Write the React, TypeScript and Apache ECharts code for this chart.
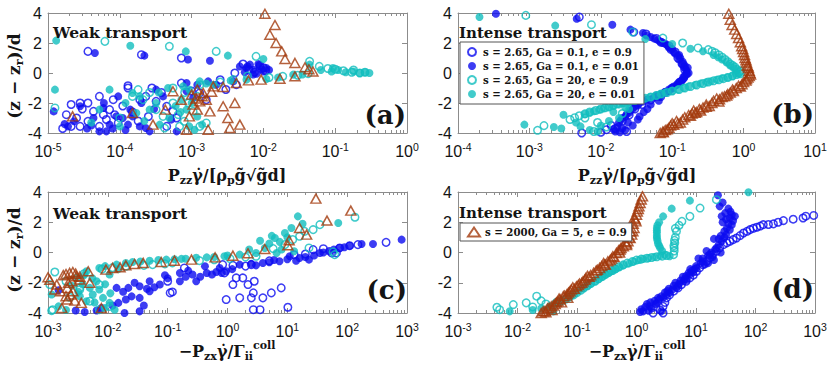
import React, { useEffect, useRef } from 'react';
import * as echarts from 'echarts';

// ---------- legend names ----------
const N_BO = 's = 2.65, Ga = 0.1, e = 0.9';
const N_BF = 's = 2.65, Ga = 0.1, e = 0.01';
const N_CO = 's = 2.65, Ga = 20, e = 0.9';
const N_CF = 's = 2.65, Ga = 20, e = 0.01';
const N_T = 's = 2000, Ga = 5, e = 0.9';

// ---------- axis ranges ----------
const X_RANGE = [[1e-5, 1], [1e-4, 10], [1e-3, 1e3], [1e-3, 1e3]];
const X_DECADES = [[-5, 0], [-4, 1], [-3, 3], [-3, 3]];
const Y_MIN = -4;
const Y_MAX = 4;
const Y_STEP = 2;

// ---------- panel (a) ----------
const aBlueOpen = [[3.6e-5,1.44],[2.0e-4,1.22],[7.2e-4,1.0],[5.2e-3,0.6],[1.0e-2,0.35],[1.07e-2,0.15],[8.9e-3,0.5],[2.5e-3,-0.45],[7.2e-4,-0.67],[1.3e-4,-0.85],[1.3e-4,-1.0],[2.8e-4,-1.0],[8.1e-5,-1.78],[3.6e-5,-2.0],[5.2e-5,-1.56],[2.8e-5,-2.0],[2.1e-5,-2.1],[1.8e-5,-2.78],[2.5e-5,-3.0],[4.3e-5,-2.56],[3.6e-5,-3.22],[2.8e-5,-3.56],[2.1e-5,-3.56],[5.9e-5,-2.78],[7.2e-5,-2.44],[8.5e-5,-2.78],[9.5e-5,-3.33],[1.9e-4,-1.78],[2.3e-4,-1.56],[3.2e-4,-1.89],[4.5e-4,-2.22],[5.5e-4,-2.56],[6.2e-4,-3.0],[4.5e-4,-3.56],[1.3e-3,-1.33],[1.6e-3,-1.78],[3.0e-3,-1.1],[4.2e-3,-0.78],[5.2e-5,-3.56],[1.6e-5,-3.7],[1.1e-4,-2.2],[1.8e-4,-3.2],[1.0e-3,-1.2],[6.3e-3,0.2],[6.5e-5,-3.1],[1.5e-4,-2.6],[2.5e-4,-2.9],[3.8e-4,-1.3],[4.0e-3,0.0],[7.5e-3,0.05],[3.0e-5,-2.4]];
const aBlueFilled = [[4.5e-5,1.33],[2.2e-4,1.16],[8.9e-4,0.9],[1.8e-3,0.82],[4.7e-3,0.44],[5.8e-3,0.33],[7.2e-3,0.22],[8.9e-3,0.44],[1.0e-2,0.1],[1.1e-2,0.33],[7.2e-3,-0.1],[6.5e-3,0.56],[3.8e-3,-0.56],[1.7e-3,-0.56],[8.5e-4,-0.67],[1.2e-5,-2.56],[1.9e-5,-3.56],[2.8e-5,-2.22],[4.3e-5,-3.0],[5.2e-5,-3.89],[6.5e-5,-3.89],[7.2e-5,-3.44],[8.9e-5,-2.89],[9.5e-5,-1.56],[1.4e-4,-2.44],[1.5e-4,-2.89],[1.9e-4,-3.56],[2.3e-4,-3.67],[1.3e-4,-3.44],[2.6e-4,-3.89],[3.2e-4,-1.11],[4.0e-4,-1.56],[5.2e-4,-3.11],[6.2e-4,-3.89],[8.5e-4,-1.22],[1.05e-3,-1.67],[1.2e-3,-0.78],[2.2e-3,-0.78],[2.3e-5,-3.22],[5.9e-5,-2.33],[1.7e-5,-3.4],[3.5e-5,-3.7],[6.0e-5,-2.0],[1.1e-4,-3.0],[3.0e-4,-2.4],[5.5e-3,0.05],[8.0e-3,-0.05],[9.5e-3,0.25],[4.0e-5,-3.5],[8.0e-5,-3.7],[1.2e-4,-3.8],[2.0e-4,-2.0],[6.0e-3,0.45],[8.5e-3,0.6],[1.2e-2,0.2]];
const aCyanOpen = [[1.25e-5,-2.33],[6.2e-5,2.11],[4.9e-4,1.78],[2.2e-3,1.44],[7.9e-3,1.11],[4.4e-2,0.78],[6.0e-2,0.44],[7.9e-2,0.3],[0.1,0.25],[0.13,0.15],[0.17,0.05],[0.22,0.0],[0.18,0.2],[0.26,0.05],[1.86e-2,-0.22],[4.2e-2,-0.04],[3.8e-3,-0.44],[1.3e-3,-0.78],[5.5e-4,-1.0],[1.8e-4,-1.11],[3.2e-4,-2.44],[4.0e-4,-2.89],[4.2e-4,-3.67],[6.8e-4,-3.56],[5.5e-4,-2.0],[6.5e-4,-2.78],[7.9e-4,-3.22],[1.3e-3,-3.56],[1.6e-3,-3.33],[1.2e-3,-1.56],[1.05e-3,-2.56],[1.5e-4,-1.56],[1.0e-4,-3.0],[2.1e-4,-1.78],[6.0e-3,-0.2],[1.2e-2,-0.3],[3.0e-2,-0.15],[8.0e-4,-1.3],[2.5e-3,-0.6],[9.0e-4,-2.0],[2.6e-4,-1.3]];
const aCyanFilled = [[1.3e-5,2.16],[1.25e-5,-1.11],[1.4e-4,1.82],[8.3e-4,1.44],[3.2e-3,1.16],[1.0e-2,0.93],[4.4e-2,0.56],[9.3e-2,0.33],[6.3e-2,0.2],[8.9e-2,0.1],[0.11,0.2],[0.14,0.05],[0.18,0.1],[0.22,0.0],[0.26,0.05],[0.3,0.0],[1.1e-2,-0.4],[5.8e-3,-0.44],[2.6e-2,-0.11],[1.3e-3,-0.56],[9.3e-4,-1.11],[7.2e-5,-1.11],[1.5e-4,-1.33],[1.9e-4,-1.56],[1.2e-4,-2.0],[5.2e-5,-2.44],[1.0e-4,-3.56],[1.7e-4,-2.67],[2.6e-4,-2.44],[3.2e-4,-2.0],[3.6e-4,-3.44],[4.9e-4,-3.0],[7.2e-4,-1.78],[8.5e-4,-2.44],[9.3e-4,-3.56],[1.1e-3,-3.78],[1.4e-3,-3.44],[7.6e-4,-0.89],[4.7e-4,-1.0],[2.0e-3,-0.78],[3.5e-4,-1.3],[6.0e-4,-2.2],[1.2e-3,-2.9],[2.2e-4,-3.2],[4.0e-5,-3.3],[7.0e-4,-2.6],[1.0e-3,-2.0],[1.6e-3,-0.7],[3.5e-3,-0.5],[1.6e-2,-0.3],[3.5e-2,-0.1]];
const aBrown = [[1.05e-2,3.95],[1.45e-2,3.2],[1.23e-2,2.55],[1.5e-2,2.0],[1.8e-2,1.44],[2.0e-2,0.93],[2.75e-2,0.67],[3.8e-2,0.38],[4.9e-2,0.1],[4.3e-2,0.25],[2.75e-2,-0.22],[1.7e-2,-0.38],[9.3e-3,-0.44],[6.2e-3,-0.49],[4.2e-3,-0.67],[2.75e-3,-0.93],[2.0e-3,-0.89],[1.2e-3,-1.11],[1.0e-3,-1.44],[1.45e-3,-1.33],[1.6e-3,-1.78],[1.3e-3,-1.89],[1.05e-3,-2.11],[1.2e-3,-2.44],[1.8e-3,-2.56],[9.3e-4,-2.89],[8.5e-4,-3.78],[1.7e-3,-3.78],[3.2e-3,-3.0],[3.4e-3,-3.67],[4.7e-3,-3.44],[2.75e-3,-2.22],[4.0e-3,-2.0],[5.5e-4,-1.22],[7.2e-4,-1.78],[2.9e-4,-3.44],[1.5e-4,-2.67],[2.2e-5,-2.89],[4.3e-4,-2.44],[1.4e-3,-1.55],[1.9e-3,-1.25],[1.15e-3,-1.7]];

// ---------- panel (b) ----------
const bBlueOpen = [[5.0e-3,3.73],[2.9e-2,2.73],[4.3e-2,2.6],[6.0e-2,2.3],[9.0e-2,1.8],[1.2e-1,1.0],[1.5e-1,0.2],[1.3e-1,-0.6],[8.0e-2,-1.3],[5.0e-2,-1.8],[3.0e-2,-2.4],[2.0e-2,-3.2],[1.6e-2,-3.7],[5.4e-3,-4.0],[1.2e-2,-3.78],[1.4e-2,-3.5],[2.3e-2,-3.9],[1.4e-1,0.6],[1.0e-1,-1.0],[3.8e-2,-2.1],[7.0e-2,2.05],[1.1e-1,1.4],[1.45e-1,-0.3],[6.5e-2,-1.55],[2.5e-2,-2.8],[1.0e-2,-3.95]];
const bBlueFilled = [[3.4e-4,3.95],[4.6e-3,3.62],[1.45e-2,3.22],[2.6e-2,2.89],[3.9e-2,2.67],[5.0e-2,2.4],[6.3e-2,2.2],[7.4e-2,2.0],[9.0e-2,1.7],[1.05e-1,1.4],[1.2e-1,1.15],[1.3e-1,1.0],[1.4e-1,0.75],[1.5e-1,0.5],[1.55e-1,0.25],[1.6e-1,0.0],[8.0e-2,1.95],[1.0e-1,1.6],[1.25e-1,1.2],[1.35e-1,0.6],[1.5e-1,-0.2],[1.35e-1,-0.5],[1.15e-1,-0.8],[1.0e-1,-1.0],[8.0e-2,-1.25],[6.0e-2,-1.5],[4.5e-2,-1.75],[3.5e-2,-2.0],[3.0e-2,-2.25],[2.6e-2,-2.5],[2.3e-2,-2.75],[2.0e-2,-3.0],[1.8e-2,-3.3],[1.7e-2,-3.6],[1.6e-2,-3.9],[2.2e-2,-3.8],[2.8e-2,-3.5],[3.3e-2,-3.1],[4.0e-2,-2.6],[5.0e-2,-2.1],[7.0e-2,-1.6],[9.0e-2,-1.2],[1.2e-1,-0.7],[1.45e-1,-0.35],[1.58e-1,0.15],[4.4e-2,2.5],[5.6e-2,2.3],[6.8e-2,2.1],[8.5e-2,1.85],[9.5e-2,1.55],[1.1e-1,1.3],[1.25e-1,0.9],[1.45e-1,0.4],[1.7e-1,0.0],[1.65e-1,0.35],[1.6e-1,-0.1],[1.4e-1,-0.45],[1.25e-1,-0.6],[1.05e-1,-0.9],[9.0e-2,-1.1],[7.0e-2,-1.4],[5.5e-2,-1.65],[4.0e-2,-1.9],[3.3e-2,-2.15],[2.8e-2,-2.4],[2.5e-2,-2.65],[2.2e-2,-2.9],[1.9e-2,-3.15],[2.4e-2,-3.3],[2.0e-2,-3.7],[1.85e-2,-3.95],[1.5e-2,-3.75],[3.5e-2,-2.9],[4.5e-2,-2.4],[6.5e-2,-1.85]];
const bCyanOpen = [[8.9e-4,3.84],[7.4e-3,3.22],[2.8e-2,2.73],[7.4e-2,2.33],[1.4e-1,2.0],[2.3e-1,1.67],[3.2e-1,1.56],[4.0e-1,1.35],[5.0e-1,1.05],[6.0e-1,0.75],[7.0e-1,0.5],[8.0e-1,0.25],[8.8e-1,0.05],[8.0e-1,-0.1],[6.0e-1,-0.3],[4.5e-1,-0.45],[3.2e-1,-0.6],[2.2e-1,-0.8],[1.5e-1,-1.0],[1.0e-1,-1.2],[7.0e-2,-1.4],[5.0e-2,-1.6],[3.5e-2,-1.75],[2.5e-2,-1.9],[1.7e-2,-2.05],[1.3e-2,-2.25],[1.0e-2,-2.4],[7.0e-3,-2.6],[5.0e-3,-2.85],[3.7e-3,-3.1],[1.3e-3,-3.82],[1.6e-3,-3.51],[6.0e-3,-3.0],[8.0e-3,-3.9],[1.2e-2,-3.6],[9.0e-3,-3.3],[2.0e-2,-2.7],[3.6e-1,1.45],[4.5e-1,1.2],[5.5e-1,0.9],[6.5e-1,0.6],[7.5e-1,0.4],[9.0e-1,0.15],[9.0e-1,-0.05],[7.0e-1,-0.2],[5.2e-1,-0.38],[3.8e-1,-0.52],[2.7e-1,-0.7],[1.8e-1,-0.9],[1.25e-1,-1.1],[8.5e-2,-1.3],[6.0e-2,-1.5],[4.2e-2,-1.68],[3.0e-2,-1.82],[2.1e-2,-1.98],[1.5e-2,-2.15],[1.15e-2,-2.32],[8.5e-3,-2.5],[6.0e-3,-2.72],[4.3e-3,-2.98]];
const bCyanFilled = [[2.0e-4,3.73],[2.3e-3,3.16],[4.2e-2,2.27],[1.0e-1,1.93],[1.8e-1,1.62],[2.7e-1,1.45],[3.8e-1,1.2],[5.0e-1,0.9],[6.5e-1,0.5],[8.0e-1,0.2],[8.5e-1,-0.05],[7.0e-1,-0.2],[5.0e-1,-0.35],[3.5e-1,-0.55],[2.5e-1,-0.7],[1.7e-1,-0.9],[1.2e-1,-1.1],[8.0e-2,-1.3],[6.0e-2,-1.5],[4.0e-2,-1.7],[3.0e-2,-1.85],[2.0e-2,-2.0],[1.5e-2,-2.2],[1.1e-2,-2.35],[8.0e-3,-2.55],[6.0e-3,-2.75],[8.5e-4,-3.44],[3.0e-3,-2.78],[2.2e-3,-3.6],[2.8e-3,-3.7],[5.2e-3,-3.56],[7.0e-3,-3.8],[1.0e-2,-3.5],[1.3e-2,-3.2],[1.8e-2,-3.0],[9.0e-3,-3.9],[4.5e-3,-3.3],[2.5e-2,-2.4],[4.4e-1,1.05],[5.8e-1,0.7],[7.2e-1,0.35],[7.8e-1,0.0],[6.0e-1,-0.28],[4.2e-1,-0.45],[3.0e-1,-0.62],[2.1e-1,-0.8],[1.45e-1,-1.0],[1.0e-1,-1.2],[7.0e-2,-1.4],[5.0e-2,-1.6],[3.5e-2,-1.78],[2.5e-2,-1.92],[1.8e-2,-2.1],[1.3e-2,-2.28],[9.5e-3,-2.45],[7.0e-3,-2.65],[1.5e-2,-2.6],[2.2e-2,-2.3]];
const bBrown = [[0.62,3.95],[0.65,3.55],[0.69,3.2],[0.75,2.89],[0.8,2.6],[0.85,2.33],[0.9,2.05],[0.94,1.78],[1.0,1.4],[1.05,1.0],[1.1,0.7],[1.17,0.33],[1.23,0.0],[1.15,-0.3],[1.0,-0.6],[0.79,-1.0],[0.65,-1.3],[0.5,-1.6],[0.38,-1.85],[0.3,-2.1],[0.24,-2.4],[0.19,-2.7],[0.15,-2.95],[0.115,-3.2],[0.095,-3.5],[0.074,-3.9],[0.068,-4.0],[0.085,-3.75],[0.13,-3.3],[0.17,-2.8],[0.22,-2.6],[0.33,-2.2],[0.45,-1.9],[0.58,-1.5],[0.9,-0.9],[1.2,-0.2],[1.08,-0.5],[0.7,-1.1],[0.27,-2.3],[1.12,0.5],[1.2,0.15],[0.97,1.6],[0.42,-1.7],[0.2,-2.5],[0.1,-3.35],[1.03,1.2],[1.08,0.85],[1.15,0.45],[1.25,-0.1],[1.1,-0.4],[0.95,-0.75],[0.85,-0.85],[0.72,-1.2],[0.6,-1.4],[0.54,-1.55],[0.46,-1.75],[0.36,-2.0],[0.3,-2.25],[0.25,-2.5],[0.21,-2.65],[0.18,-2.85],[0.14,-3.1],[0.12,-3.35],[0.105,-3.45],[0.09,-3.65],[0.08,-3.8],[0.075,-3.95]];

// ---------- panel (c) ----------
const cBlueOpen = [[1.23,-0.85],[2.5,-0.8],[0.89,-1.35],[0.95,-3.11],[1.23,-2.12],[1.4,-1.68],[1.6,-3.0],[1.8,-1.68],[2.2,-2.12],[2.7,-2.67],[2.5,-3.0],[2.7,-3.78],[3.5,-3.78],[3.9,-3.0],[5.4,-2.67],[7.9,-2.34],[2.8,-1.9],[10.2,-3.62],[27,0.19],[55,-0.03],[66,-0.03],[110,0.45],[447,0.67],[151,0.52],[0.12,-2.61],[0.19,-1.02],[0.83,-0.8],[0.11,-2.67],[0.1,-1.9],[13,-0.15],[5,-0.55],[40,0.25],[20,-0.1],[75,0.3],[2.0,-0.9]];
const cBlueFilled = [[2.9e-3,-3.84],[4.1e-3,-3.93],[6.5e-3,-3.84],[1.4e-2,-2.34],[2.2e-2,-2.34],[2.0e-2,-3.11],[1.9e-2,-4.0],[3.4e-2,-3.89],[3.4e-2,-2.23],[3.4e-2,-3.0],[5.0e-2,-1.9],[5.0e-2,-2.56],[7.4e-2,-2.12],[0.16,-1.35],[0.16,-1.9],[0.26,-1.46],[0.3,-1.9],[0.45,-1.35],[0.65,-1.29],[0.95,-1.24],[0.42,-0.91],[0.74,-1.02],[1.6,-0.8],[3.9,-0.69],[7.4,-0.58],[16,-0.36],[35,-0.03],[74,0.3],[174,0.56],[270,0.56],[813,0.85],[11,-0.25],[23,-0.47],[1.5e-2,-3.33],[7.8e-3,-3.67],[1.5e-3,-2.5],[1.2,-1.1],[2.5,-0.75],[5.0,-0.65],[10,-0.45],[28,-0.2],[50,0.1],[110,0.45],[0.2,-1.6],[0.1,-1.7],[0.06,-2.3],[0.025,-2.9],[0.012,-3.5],[0.04,-3.5],[0.22,-1.2],[0.35,-1.6],[0.55,-1.45],[0.8,-1.35],[3.0,-0.85],[6.0,-0.5],[14,-0.55],[20,-0.3],[40,0.0],[60,0.2],[90,0.35],[0.028,-2.0],[0.045,-2.4],[0.09,-1.5],[0.018,-2.6]];
const cCyanOpen = [[1.07e-3,-2.12],[1.2e-3,-3.78],[3.4e-3,-2.34],[2.3e-3,-2.96],[5.0e-3,-3.22],[7.2e-3,-2.12],[1.07e-2,-3.56],[7.2e-3,-3.78],[2.0e-2,-0.91],[5.6e-2,-0.8],[0.12,-0.69],[0.34,-0.54],[1.1,-0.41],[3.0,-0.25],[5.8,0.26],[9.1,0.52],[12.3,0.85],[16,1.07],[19.5,1.4],[27,1.51],[35,1.84],[135,2.33],[23,0.3],[58,0.04],[62,-0.14],[1.3e-3,-1.29],[1.15e-3,-3.84],[3.4e-3,-2.45],[0.04,-0.85],[0.09,-0.75],[8.0e-3,-1.1],[1.2e-2,-1.0],[4.0e-3,-1.4],[2.0e-3,-1.9],[0.6,-0.48],[2.0,-0.3]];
const cCyanFilled = [[15,2.39],[71,1.95],[11.7,1.62],[9.1,1.29],[6.2,0.96],[3.5,0.78],[4.2,0.3],[6.6,-0.03],[13,0.08],[3.0,-0.03],[1.6,-0.14],[0.89,-0.25],[0.45,-0.32],[0.2,-0.41],[0.095,-0.47],[0.05,-0.54],[0.026,-0.63],[0.014,-0.8],[7.2e-3,-1.02],[4.4e-3,-1.24],[3.0e-3,-1.68],[3.8e-3,-2.12],[5.0e-3,-2.34],[6.5e-3,-1.9],[7.2e-3,-2.45],[5.6e-3,-2.78],[8.3e-3,-3.0],[1.07e-2,-3.33],[1.3e-2,-3.78],[4.4e-3,-3.22],[3.4e-3,-2.89],[1.5e-3,-3.56],[1.15e-3,-2.78],[8.9e-3,-3.67],[1.07e-2,-1.46],[2.3,0.2],[5.0,0.6],[8.0,0.2],[0.6,-0.3],[0.3,-0.35],[0.13,-0.45],[0.035,-0.6],[0.02,-0.7],[9.0e-3,-0.9],[4.0e-3,-1.5],[5.5e-3,-1.7],[2.5e-3,-2.2],[6.0e-3,-3.3],[1.1e-2,-2.7],[2.0e-3,-3.8],[10,1.0],[7.5,0.7],[18,1.9],[0.07,-0.5],[0.17,-0.42],[1.0,-0.2],[5.5,1.1],[1.5e-2,-1.1],[3.2e-3,-2.6],[9.0e-3,-2.1]];
const cBrown = [[1.0e-3,-1.64],[1.4e-3,-2.12],[1.3e-3,-2.45],[2.0e-3,-1.42],[2.6e-3,-1.29],[3.0e-3,-1.57],[2.5e-3,-1.9],[3.4e-3,-1.79],[2.1e-3,-2.34],[2.6e-3,-2.56],[2.0e-3,-2.89],[2.8e-3,-3.18],[1.7e-3,-3.67],[3.6e-3,-3.33],[4.7e-3,-1.24],[5.0e-3,-2.01],[7.8e-3,-3.67],[9.3e-3,-1.13],[1.2e-2,-1.02],[1.6e-2,-0.98],[2.0e-2,-0.85],[2.8e-2,-0.76],[3.9e-2,-0.69],[7.8e-2,-0.63],[0.13,-0.54],[0.25,-0.47],[0.62,-0.32],[1.23,-0.21],[2.2,-0.05],[4.2,0.23],[10.2,0.48],[10.7,0.81],[21,1.18],[16,1.62],[46,2.11],[115,2.77],[30,3.56],[1.07e-3,-1.8],[2.3e-3,-1.35],[2.9e-3,-1.4],[2.2e-3,-2.01],[1.6e-3,-2.56],[2.4e-3,-2.78],[2.1e-3,-3.11],[3.4e-3,-1.6],[1.8e-3,-1.5]];

// ---------- panel (d) ----------
const dBlueOpen = [[950,2.45],[630,2.28],[295,2.11],[200,1.89],[135,1.84],[105,1.67],[81,1.51],[63,1.29],[48,0.96],[37,0.74],[29,0.52],[22,0.08],[17,-0.36],[13,-0.8],[10.2,-1.24],[7.9,-1.68],[5.7,-2.12],[4.2,-2.56],[3.2,-3.0],[2.8,-3.56],[1.9,-4.0],[2.8,-4.0],[25,0.3],[15,-0.6],[9,-1.5],[3.6,-2.8],[700,2.4],[430,2.2],[240,2.0],[165,1.85],[120,1.75],[92,1.6],[72,1.4],[55,1.12],[42,0.85],[33,0.63],[19,-0.14],[11.5,-1.02],[6.8,-1.9],[5.0,-2.34],[3.0,-3.3],[2.5,-3.8]];
const dBlueFilled = [[23.4,3.78],[25,3.05],[31,2.61],[37,2.28],[40,1.84],[37,1.51],[32,1.18],[27,0.74],[22,0.3],[17,-0.14],[13,-0.58],[10.2,-1.02],[7.9,-1.46],[6.2,-1.9],[4.7,-2.34],[3.6,-2.67],[2.8,-3.0],[2.2,-3.33],[1.66,-3.56],[1.3,-3.89],[1.15,-3.93],[2.6,-3.89],[28,2.0],[30,1.4],[20,0.9],[24,0.5],[15,0.1],[19,-0.3],[11,-0.4],[14,-0.8],[8.0,-1.1],[9.0,-1.3],[6.0,-1.6],[7.0,-1.8],[4.5,-2.0],[5.0,-2.2],[3.5,-2.4],[3.2,-2.8],[2.4,-3.1],[2.0,-3.2],[1.5,-3.4],[1.8,-3.7],[1.2,-3.75],[45,2.4],[38,2.7],[35,2.9],[21,0.2],[18,0.0],[16,-0.2],[13,-0.4],[12,-0.7],[10,-0.9],[9.5,-1.1],[8.5,-1.2],[7.5,-1.35],[6.8,-1.55],[6.5,-1.75],[5.5,-1.85],[5.2,-2.05],[4.2,-2.2],[4.0,-2.45],[3.3,-2.55],[3.0,-2.65],[2.6,-2.9],[2.3,-3.0],[2.1,-3.4],[1.7,-3.3],[1.4,-3.6],[1.6,-3.85],[30,1.0],[26,1.1],[24,0.9],[33,1.6],[35,1.9],[32,2.2],[40,2.5],[42,2.1],[26,0.0],[20,-0.5],[16,-0.7],[28,3.3],[27,2.4]];
const dCyanOpen = [[22,3.49],[11.7,2.94],[7.9,2.39],[5.8,2.06],[5.2,1.8],[4.7,1.4],[4.5,1.0],[4.4,0.63],[4.3,0.3],[4.2,-0.14],[3.2,-0.2],[2.2,-0.28],[1.5,-0.38],[1.0,-0.5],[0.7,-0.7],[0.5,-0.95],[0.38,-1.2],[0.3,-1.45],[0.23,-1.75],[0.17,-2.05],[0.13,-2.35],[0.1,-2.65],[0.075,-2.95],[0.055,-3.2],[0.03,-3.4],[4.5e-3,-3.62],[5.0e-3,-3.78],[8.5e-3,-3.44],[0.021,-2.89],[0.014,-3.33],[0.018,-3.6],[0.025,-3.2],[4.5,1.6],[4.35,0.8],[4.25,0.45],[4.3,0.1],[2.7,-0.24],[1.8,-0.33],[1.2,-0.44],[0.85,-0.6],[0.6,-0.82],[0.44,-1.08],[0.34,-1.32],[0.26,-1.6],[0.2,-1.9],[0.15,-2.2],[0.115,-2.5],[0.088,-2.8],[0.065,-3.08],[0.045,-3.3]];
const dCyanFilled = [[76,3.98],[7.9,3.43],[3.9,2.9],[2.8,2.39],[2.4,2.0],[2.2,1.62],[2.2,1.3],[2.2,0.96],[2.3,0.6],[2.5,0.3],[3.6,-0.25],[3.0,-0.15],[2.0,-0.3],[1.3,-0.42],[0.9,-0.6],[0.6,-0.85],[0.45,-1.1],[0.34,-1.35],[0.27,-1.6],[0.2,-1.9],[0.15,-2.2],[0.11,-2.5],[0.085,-2.8],[0.065,-3.05],[0.048,-3.3],[0.035,-3.55],[0.04,-3.89],[7.4e-3,-3.89],[0.025,-3.7],[0.018,-3.8],[2.25,1.8],[2.2,1.45],[2.2,1.1],[2.25,0.8],[2.4,0.45],[2.7,0.1],[2.5,-0.22],[1.6,-0.36],[1.1,-0.5],[0.75,-0.72],[0.52,-0.98],[0.4,-1.22],[0.3,-1.48],[0.23,-1.75],[0.17,-2.05],[0.13,-2.35],[0.095,-2.65],[0.075,-2.92],[0.055,-3.18],[0.042,-3.42]];
const dBrown = [[1.26,3.71],[1.15,3.27],[1.07,2.88],[1.0,2.5],[0.98,2.06],[0.91,1.62],[0.83,1.18],[0.72,0.74],[0.6,0.41],[0.46,-0.03],[0.33,-0.58],[0.24,-1.02],[0.19,-1.35],[0.126,-1.9],[0.098,-2.23],[0.076,-2.56],[0.059,-2.89],[0.048,-3.22],[0.037,-3.56],[0.027,-3.89],[0.025,-4.0],[0.92,2.3],[0.88,1.9],[0.8,1.4],[0.75,1.0],[0.65,0.7],[0.55,0.3],[0.5,0.15],[0.4,-0.25],[0.38,-0.4],[0.28,-0.7],[0.26,-0.9],[0.21,-1.2],[0.16,-1.6],[0.15,-1.55],[0.11,-2.05],[0.09,-2.4],[0.085,-2.3],[0.068,-2.75],[0.05,-3.05],[0.043,-3.4],[0.032,-3.7],[0.03,-3.95],[0.038,-3.8],[0.055,-3.3],[0.07,-3.0],[0.14,-1.7],[0.3,-0.8],[0.52,0.0],[0.68,0.5],[1.2,3.5],[1.1,3.05],[1.03,2.7],[0.95,2.2],[0.87,1.4],[0.78,0.95],[0.68,0.6],[0.53,0.2],[0.42,-0.3],[0.36,-0.5],[0.29,-0.8],[0.22,-1.15],[0.17,-1.5],[0.135,-1.8],[0.12,-2.0],[0.105,-2.15],[0.08,-2.45],[0.072,-2.65],[0.062,-2.85],[0.052,-3.1],[0.045,-3.3],[0.04,-3.5],[0.034,-3.65],[0.029,-3.85]];

const PANELS = [
  { bo: aBlueOpen, bf: aBlueFilled, co: aCyanOpen, cf: aCyanFilled, t: aBrown },
  { bo: bBlueOpen, bf: bBlueFilled, co: bCyanOpen, cf: bCyanFilled, t: bBrown },
  { bo: cBlueOpen, bf: cBlueFilled, co: cCyanOpen, cf: cCyanFilled, t: cBrown },
  { bo: dBlueOpen, bf: dBlueFilled, co: dCyanOpen, cf: dCyanFilled, t: dBrown },
];

// ---------- styles ----------
const BLUE = '#0b0bf0';
const CYAN = '#12bebe';
const BROWN = '#a33a0c';
const TXT = '#141414';
const AXC = '#8c8c8c';
const SERIF = '"DejaVu Serif", "Liberation Serif", serif';
const SANS = '"Liberation Sans", Arial, Helvetica, sans-serif';
const CLEAR = 'rgba(255,255,255,0)';

const GRIDS = [
  { left: 48, top: 13, width: 359, height: 120 },
  { left: 458, top: 13, width: 357, height: 120 },
  { left: 48, top: 192, width: 359, height: 121 },
  { left: 458, top: 192, width: 357, height: 121 },
];

const KINDS: any = {
  bo: { name: N_BO, symbol: 'circle', symbolSize: 7.5, itemStyle: { color: CLEAR, borderColor: BLUE, borderWidth: 1.5 } },
  bf: { name: N_BF, symbol: 'circle', symbolSize: 8, itemStyle: { color: BLUE, borderWidth: 0 } },
  co: { name: N_CO, symbol: 'circle', symbolSize: 7.5, itemStyle: { color: CLEAR, borderColor: CYAN, borderWidth: 1.5 } },
  cf: { name: N_CF, symbol: 'circle', symbolSize: 8, itemStyle: { color: CYAN, borderWidth: 0 } },
  t: { name: N_T, symbol: 'triangle', symbolSize: [10, 9], itemStyle: { color: CLEAR, borderColor: BROWN, borderWidth: 1.5 } },
};

function minorTicks(lo: number, hi: number): number[] {
  const out: number[] = [];
  for (let e = lo; e < hi; e++) for (let k = 2; k <= 9; k++) out.push(k * Math.pow(10, e));
  return out;
}

const RICH_G: any = {
  m: { fontFamily: SERIF, fontWeight: 'bold', fontSize: 16, lineHeight: 22, fill: TXT },
  my: { fontFamily: SERIF, fontWeight: 'bold', fontSize: 17, lineHeight: 22, fill: TXT },
  sb: { fontFamily: SERIF, fontWeight: 'bold', fontSize: 11, lineHeight: 12, verticalAlign: 'bottom', fill: TXT },
  sp: { fontFamily: SERIF, fontWeight: 'bold', fontSize: 11, lineHeight: 12, verticalAlign: 'top', fill: TXT },
};

function gtext(x: number, y: number, text: string, opts: any = {}) {
  return {
    type: 'text', x, y, silent: true, z: 50,
    rotation: opts.rotation || 0,
    style: {
      text,
      rich: opts.rich,
      fill: TXT,
      font: opts.font || `bold 16px ${SERIF}`,
      align: opts.align || 'center',
      verticalAlign: 'middle',
    },
  };
}

function buildOption(): any {
  const xAxis: any[] = [];
  const yAxis: any[] = [];
  const series: any[] = [];
  const line = { color: AXC, width: 1 };
  GRIDS.forEach((_, g) => {
    const [min, max] = X_RANGE[g];
    const [lo, hi] = X_DECADES[g];
    const base = { gridIndex: g, type: 'log', logBase: 10, min, max, splitLine: { show: false }, minorTick: { show: false } };
    xAxis.push({
      ...base, position: 'bottom',
      axisLine: { show: true, onZero: false, lineStyle: line },
      axisTick: { show: true, inside: true, length: 5, lineStyle: line },
      axisLabel: {
        show: true, margin: 8,
        formatter: (v: number) => `{b|10}{s|${Math.round(Math.log10(v))}}`,
        rich: {
          b: { fontSize: 16, fontFamily: SANS, color: TXT, lineHeight: 20 },
          s: { fontSize: 10.5, fontFamily: SANS, color: TXT, lineHeight: 10, verticalAlign: 'top' },
        },
      },
    });
    xAxis.push({
      ...base, position: 'top',
      axisLine: { show: true, onZero: false, lineStyle: line },
      axisTick: { show: true, inside: true, length: 5, lineStyle: line },
      axisLabel: { show: false },
    });
    const minors = minorTicks(lo, hi);
    xAxis.push({
      ...base, position: 'bottom',
      axisLine: { show: false, onZero: false },
      axisTick: { show: true, inside: true, length: 3, customValues: minors, lineStyle: line },
      axisLabel: { show: false },
    });
    xAxis.push({
      ...base, position: 'top',
      axisLine: { show: false, onZero: false },
      axisTick: { show: true, inside: true, length: 3, customValues: minors, lineStyle: line },
      axisLabel: { show: false },
    });
    const ybase = { gridIndex: g, type: 'value', min: Y_MIN, max: Y_MAX, interval: Y_STEP, splitLine: { show: false } };
    yAxis.push({
      ...ybase, position: 'left',
      axisLine: { show: true, onZero: false, lineStyle: line },
      axisTick: { show: true, inside: true, length: 5, lineStyle: line },
      axisLabel: { color: TXT, fontSize: 16, fontFamily: SANS, margin: 6 },
    });
    yAxis.push({
      ...ybase, position: 'right',
      axisLine: { show: true, onZero: false, lineStyle: line },
      axisTick: { show: true, inside: true, length: 5, lineStyle: line },
      axisLabel: { show: false },
    });
    const p: any = PANELS[g];
    ['bo', 'bf', 'co', 'cf', 't'].forEach((k, i) => {
      const kd = KINDS[k];
      series.push({
        type: 'scatter', name: kd.name, data: p[k],
        xAxisIndex: g * 4, yAxisIndex: g * 2,
        symbol: kd.symbol, symbolSize: kd.symbolSize, itemStyle: kd.itemStyle,
        clip: false, silent: true, z: 2 + i, emphasis: { disabled: true },
      });
    });
  });

  const legendText = { fontFamily: SERIF, fontWeight: 'bold', fontSize: 10.2, color: TXT, lineHeight: 14 };
  const legend = [
    {
      data: [N_BO, N_BF, N_CO, N_CF], orient: 'vertical', left: 460, top: 42,
      itemWidth: 12, itemHeight: 8, itemGap: 0, padding: [3, 5, 3, 7],
      borderColor: '#555', borderWidth: 1, backgroundColor: '#fff',
      textStyle: legendText, selectedMode: false, z: 20,
    },
    {
      data: [N_T], orient: 'vertical', left: 460, top: 223,
      itemWidth: 12, itemHeight: 9, itemGap: 0, padding: [2, 5, 2, 7],
      borderColor: '#555', borderWidth: 1, backgroundColor: '#fff',
      textStyle: legendText, selectedMode: false, z: 20,
    },
  ];

  const XNAME_A = '{m|P}{sb|zz}{m|γ̇/[ρ}{sb|p}{m|g̃√g̃d]}';
  const XNAME_C = '{m|−P}{sb|zx}{m|γ̇/Γ}{sb|ii}{sp|coll}';
  const YNAME = '{my|(z − z}{sb|r}{my|)/d}';
  const graphic = [
    gtext(53, 32, 'Weak transport', { align: 'left', font: `bold 15.5px ${SERIF}` }),
    gtext(459, 33, 'Intense transport', { align: 'left', font: `bold 15px ${SERIF}` }),
    gtext(53, 213, 'Weak transport', { align: 'left', font: `bold 15.5px ${SERIF}` }),
    gtext(459, 213, 'Intense transport', { align: 'left', font: `bold 15px ${SERIF}` }),
    gtext(406, 115, '(a)', { align: 'right', font: `bold 26px ${SERIF}` }),
    gtext(814, 114, '(b)', { align: 'right', font: `bold 26px ${SERIF}` }),
    gtext(407, 290, '(c)', { align: 'right', font: `bold 26px ${SERIF}` }),
    gtext(814, 289, '(d)', { align: 'right', font: `bold 26px ${SERIF}` }),
    gtext(227, 175, XNAME_A, { rich: RICH_G }),
    gtext(637, 175, XNAME_A, { rich: RICH_G }),
    gtext(227, 351, XNAME_C, { rich: RICH_G }),
    gtext(637, 351, XNAME_C, { rich: RICH_G }),
    gtext(14, 76, YNAME, { rich: RICH_G, rotation: Math.PI / 2 }),
    gtext(14, 250, YNAME, { rich: RICH_G, rotation: Math.PI / 2 }),
  ];

  return {
    animation: false,
    backgroundColor: '#ffffff',
    grid: GRIDS.map((gr) => ({ ...gr, containLabel: false, outerBoundsMode: 'none' })),
    xAxis, yAxis, series, legend, graphic,
    tooltip: { show: false },
  };
}

export default function App() {
  const ref = useRef<HTMLDivElement>(null);
  useEffect(() => {
    if (!ref.current) return;
    const chart = echarts.init(ref.current, null, { renderer: 'svg' });
    chart.setOption(buildOption());
    return () => chart.dispose();
  }, []);
  return <div ref={ref} style={{ position: 'absolute', left: 0, top: 0, width: 830, height: 369 }} />;
}
